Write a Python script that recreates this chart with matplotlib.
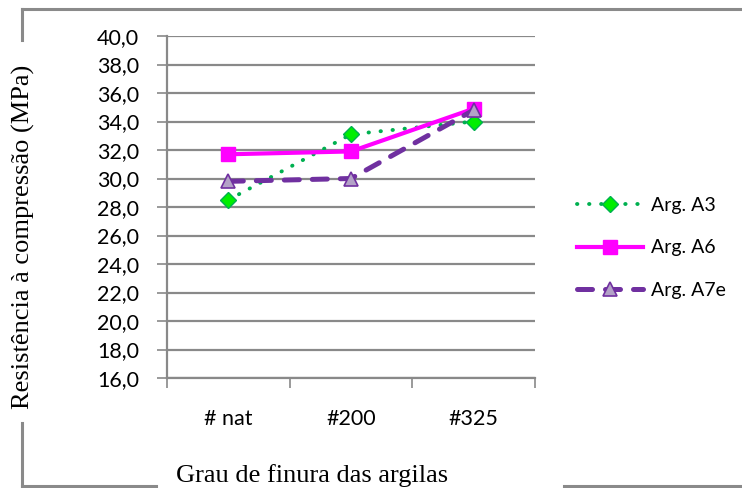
import matplotlib
matplotlib.use("Agg")
import matplotlib.pyplot as plt
from matplotlib.lines import Line2D
import numpy as np

# data
categories = ["# nat", "#200", "#325"]
arg_a3 = [28.5, 33.1, 34.0]
arg_a6 = [31.7, 31.9, 34.9]
arg_a7e = [29.8, 30.0, 34.8]
y_ticks = np.arange(16, 41, 2)

fig = plt.figure(figsize=(7.42, 4.88), dpi=100, facecolor="white")
ax = fig.add_axes([167 / 742, 1 - 378 / 488, 368 / 742, 342 / 488])

grid_col = "#898989"
x = np.arange(len(categories))

ax.plot(x, arg_a3, color="#00B050", lw=2.8, linestyle=(0, (0.1, 3.0)),
        dash_capstyle="round", marker="D", ms=8, mfc="#00EE00",
        mec="#00B050", mew=1, label="Arg. A3", zorder=3)
ax.plot(x, arg_a6, color="#FF00FF", lw=3.0, marker="s", ms=9.5,
        mfc="#FF00FF", mec="#FF00FF", label="Arg. A6", zorder=4)
ax.plot(x, arg_a7e, color="#7030A0", lw=3.6, linestyle=(0, (3.0, 2.6)),
        dash_capstyle="round", marker="^", ms=10, mfc="#B3A2C7",
        mec="#7030A0", mew=1.2, label="Arg. A7e", zorder=5)

ax.set_xlim(-0.5, 2.5)
ax.set_ylim(16, 40)
ax.set_yticks(y_ticks)
ax.set_yticklabels([f"{v:.1f}".replace(".", ",") for v in y_ticks])
ax.set_xticks([-0.5, 0.5, 1.5, 2.5])
ax.set_xticklabels([])
ax.set_xticks(x, minor=True)
ax.set_xticklabels(categories, minor=True)
ax.tick_params(axis="x", which="minor", length=0, pad=22, labelsize=15.5)
ax.tick_params(axis="x", which="major", length=7, width=1.2, color=grid_col)
ax.tick_params(axis="y", length=7, width=1.2, color=grid_col, labelsize=15.5, pad=13)
for lab in ax.get_xticklabels(minor=True) + ax.get_yticklabels():
    lab.set_fontfamily("Lato")

ax.grid(axis="y", color=grid_col, lw=1.6)
ax.set_axisbelow(True)
for s in ["top", "right"]:
    ax.spines[s].set_visible(False)
for s in ["left", "bottom"]:
    ax.spines[s].set_color(grid_col)
    ax.spines[s].set_linewidth(1.6)
ax.spines["left"].set_bounds(16, 40)

# axis titles (Times-like)
fig.text(23 / 742, 1 - 237 / 488, "Resistência à compressão (MPa)", rotation=90,
         ha="center", va="center", fontsize=19, family="Liberation Serif")
fig.text(312 / 742, 1 - 476 / 488, "Grau de finura das argilas",
         ha="center", va="center", fontsize=19, family="Liberation Serif")

leg = fig.legend(loc="center left", bbox_to_anchor=(559 / 742, 1 - 248 / 488),
                 frameon=False, prop={"family": "Lato", "size": 14},
                 handlelength=3.4, labelspacing=1.3, handletextpad=0.45)

# outer chart frame, broken where the axis titles sit
fc = "#8a8a8a"
def fline(xs, ys):
    fig.add_artist(Line2D([v / 742 for v in xs], [1 - v / 488 for v in ys],
                          color=fc, lw=2.2, transform=fig.transFigure))
fline([22, 742], [9, 9])
fline([22, 22], [9, 40])
fline([22, 22], [423, 486])
fline([22, 156], [486, 486])
fline([564, 742], [486, 486])

fig.savefig("out.png", dpi=100, facecolor="white")
